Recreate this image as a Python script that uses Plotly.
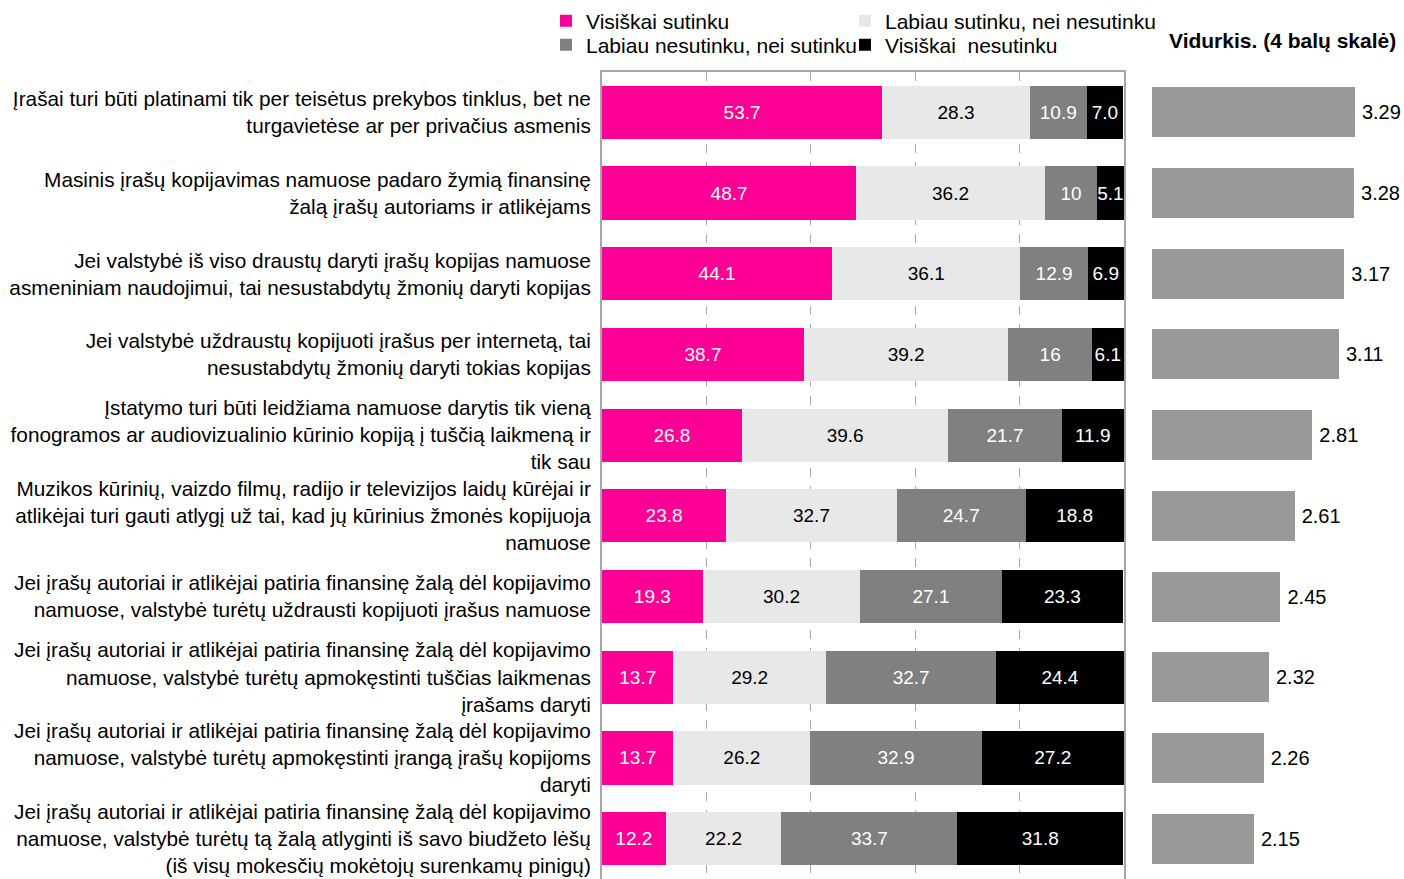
import plotly.graph_objects as go

categories = [
    "Įrašai turi būti platinami tik per teisėtus prekybos tinklus, bet ne<br>turgavietėse ar per privačius asmenis",
    "Masinis įrašų kopijavimas namuose padaro žymią finansinę<br>žalą įrašų autoriams ir atlikėjams",
    "Jei valstybė iš viso draustų daryti įrašų kopijas namuose<br>asmeniniam naudojimui, tai nesustabdytų žmonių daryti kopijas",
    "Jei valstybė uždraustų kopijuoti įrašus per internetą, tai<br>nesustabdytų žmonių daryti tokias kopijas",
    "Įstatymo turi būti leidžiama namuose darytis tik vieną<br>fonogramos ar audiovizualinio kūrinio kopiją į tuščią laikmeną ir<br>tik sau",
    "Muzikos kūrinių, vaizdo filmų, radijo ir televizijos laidų kūrėjai ir<br>atlikėjai turi gauti atlygį už tai, kad jų kūrinius žmonės kopijuoja<br>namuose",
    "Jei įrašų autoriai ir atlikėjai patiria finansinę žalą dėl kopijavimo<br>namuose, valstybė turėtų uždrausti kopijuoti įrašus namuose",
    "Jei įrašų autoriai ir atlikėjai patiria finansinę žalą dėl kopijavimo<br>namuose, valstybė turėtų apmokęstinti tuščias laikmenas<br>įrašams daryti",
    "Jei įrašų autoriai ir atlikėjai patiria finansinę žalą dėl kopijavimo<br>namuose, valstybė turėtų apmokęstinti įrangą įrašų kopijoms<br>daryti",
    "Jei įrašų autoriai ir atlikėjai patiria finansinę žalą dėl kopijavimo<br>namuose, valstybė turėtų tą žalą atlyginti iš savo biudžeto lėšų<br>(iš visų mokesčių mokėtojų surenkamų pinigų)",
]

series_names = ["Visiškai sutinku", "Labiau sutinku, nei nesutinku",
                "Labiau nesutinku, nei sutinku", "Visiškai  nesutinku"]
visiskai_sutinku = [53.7, 48.7, 44.1, 38.7, 26.8, 23.8, 19.3, 13.7, 13.7, 12.2]
labiau_sutinku = [28.3, 36.2, 36.1, 39.2, 39.6, 32.7, 30.2, 29.2, 26.2, 22.2]
labiau_nesutinku = [10.9, 10, 12.9, 16, 21.7, 24.7, 27.1, 32.7, 32.9, 33.7]
visiskai_nesutinku = [7.0, 5.1, 6.9, 6.1, 11.9, 18.8, 23.3, 24.4, 27.2, 31.8]
vidurkis = [3.29, 3.28, 3.17, 3.11, 2.81, 2.61, 2.45, 2.32, 2.26, 2.15]

series_values = [visiskai_sutinku, labiau_sutinku, labiau_nesutinku, visiskai_nesutinku]
colors = ["#FF0096", "#E8E8E8", "#808080", "#000000"]
text_colors = ["white", "black", "white", "white"]
legend_ids = ["legend", "legend2", "legend3", "legend4"]
# legend item positions in px (left x, centre y)
legend_pos = [(546, 21), (845, 21), (546, 45), (845, 45)]

FONT = "Liberation Sans, Arial, sans-serif"
W, H = 1404, 879

fig = go.Figure()
for name, vals, col, tcol, lg in zip(series_names, series_values, colors, text_colors, legend_ids):
    fig.add_trace(go.Bar(
        y=categories, x=vals, name=name, orientation="h",
        marker=dict(color=col, line=dict(width=0)),
        text=[str(v) for v in vals], textposition="inside",
        insidetextanchor="middle", textangle=0, constraintext="none",
        textfont=dict(color=tcol, size=19, family=FONT),
        width=0.66, legend=lg, cliponaxis=False,
        xaxis="x", yaxis="y",
    ))

fig.add_trace(go.Bar(
    y=categories, x=[v - 1 for v in vidurkis], base=1, orientation="h",
    marker=dict(color="#999999", line=dict(width=0)),
    text=[f"\u2009{v:.2f}" for v in vidurkis], textposition="outside",
    textfont=dict(color="black", size=20, family=FONT),
    width=0.62, showlegend=False, xaxis="x2", yaxis="y2", cliponaxis=False,
))

top = 1 - 72 / H
legend_layouts = {}
for lg, (px, py) in zip(legend_ids, legend_pos):
    legend_layouts[lg] = dict(orientation="h", x=px / W, xanchor="left", y=1 - py / H,
                              yanchor="middle", font=dict(size=21, family=FONT),
                              bgcolor="rgba(0,0,0,0)", itemwidth=30)

fig.update_layout(
    width=W, height=H,
    margin=dict(l=0, r=0, t=0, b=0),
    paper_bgcolor="white", plot_bgcolor="white",
    font=dict(family=FONT, size=20.8, color="black"),
    barmode="stack",
    xaxis=dict(domain=[602 / W, 1124 / W], range=[0, 100.05], dtick=20,
               showgrid=True, gridcolor="#AAAAAA", griddash="dash", gridwidth=1,
               showticklabels=False, zeroline=False, ticks="",
               showline=True, linecolor="#A6A6A6", linewidth=2, mirror=True),
    yaxis=dict(domain=[0, top], autorange="reversed", ticks="",
               showline=True, linecolor="#A6A6A6", linewidth=2, mirror=True,
               tickfont=dict(size=20.8, family=FONT, color="black"), ticklabelstandoff=5),
    xaxis2=dict(domain=[1152 / W, 1], range=[1, 1 + 252 / 88.6], anchor="y2",
                showgrid=False, showticklabels=False, zeroline=False, showline=False),
    yaxis2=dict(domain=[0, top], autorange="reversed", anchor="x2", matches="y",
                showticklabels=False, showgrid=False, showline=False, ticks=""),
    showlegend=True,
    **legend_layouts,
)

fig.add_annotation(text="<b>Vidurkis. (4 balų skalė)</b>", xref="paper", yref="paper",
                   x=1282 / W, y=1 - 41 / H, xanchor="center", yanchor="middle",
                   showarrow=False, font=dict(size=21, family=FONT, color="black"))

fig.write_html("out.html", config={"displayModeBar": False},
               post_script="document.body.style.margin='0px';")
